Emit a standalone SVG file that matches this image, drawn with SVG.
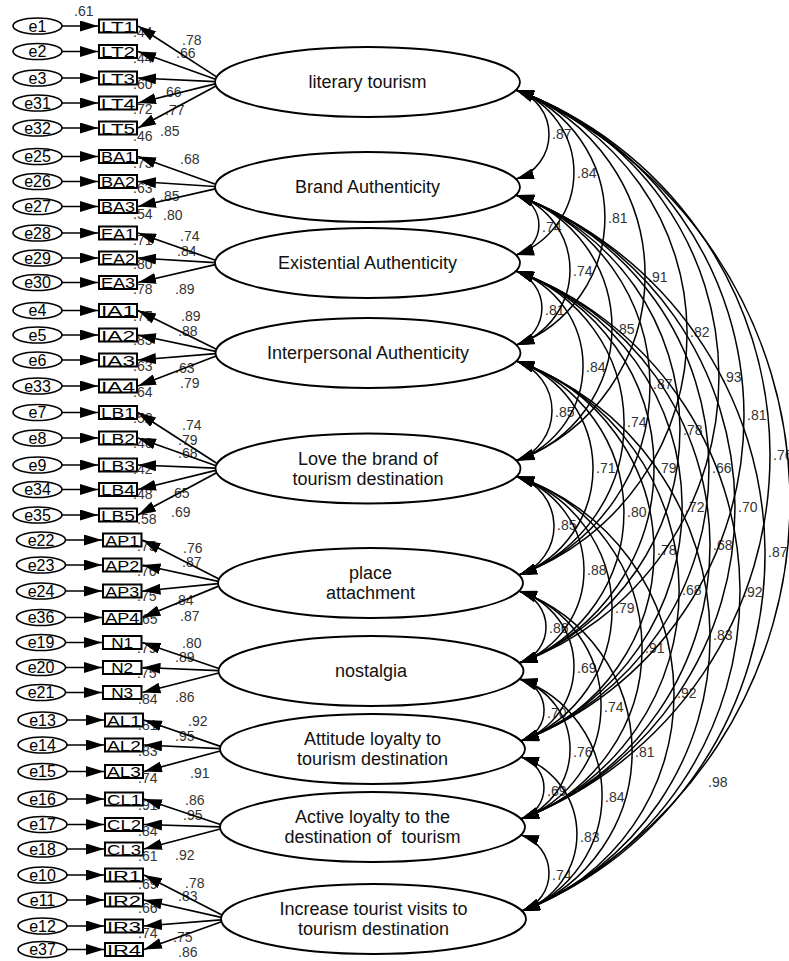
<svg xmlns="http://www.w3.org/2000/svg" width="789" height="961" viewBox="0 0 789 961">
<style>
.bg{fill:#fff}
.lat ellipse{fill:#fff;stroke:#000;stroke-width:1.8}
.lat text{font-family:"Liberation Sans",Arial,sans-serif;font-size:18px;text-anchor:middle;fill:#111}
.obs rect{fill:#fff;stroke:#000;stroke-width:2}
.obs text{font-family:"Liberation Sans",Arial,sans-serif;font-size:15px;text-anchor:middle;fill:#000}
.err ellipse{fill:#fff;stroke:#000;stroke-width:1.6}
.err text{font-family:"Liberation Sans",Arial,sans-serif;font-size:16px;text-anchor:middle;fill:#000}
.lbl text{font-family:"Liberation Sans",Arial,sans-serif;font-size:14px;fill:#333}
.ln{fill:none;stroke:#000;stroke-width:1.7;marker-end:url(#ah)}
.cv{fill:none;stroke:#000;stroke-width:1.5;marker-start:url(#ah2);marker-end:url(#ah2)}
</style>
<defs>
<marker id="ah" markerUnits="userSpaceOnUse" markerWidth="18" markerHeight="11" refX="18" refY="5.5" orient="auto"><path d="M0,0 L18,5.5 L0,11 z" fill="#000"/></marker>
<marker id="ah2" markerUnits="userSpaceOnUse" markerWidth="18" markerHeight="11" refX="18" refY="5.5" orient="auto-start-reverse"><path d="M0,0 L18,5.5 L0,11 z" fill="#000"/></marker>
</defs>
<rect class="bg" x="0" y="0" width="789" height="961"/>

<!-- latent factors -->
<g id="F1" class="lat"><ellipse cx="367.5" cy="82" rx="152.5" ry="35"/><text x="367.5" y="88">literary tourism</text></g>
<g id="F2" class="lat"><ellipse cx="367.5" cy="187" rx="152.5" ry="35"/><text x="367.5" y="193">Brand Authenticity</text></g>
<g id="F3" class="lat"><ellipse cx="367.5" cy="263" rx="152.5" ry="35"/><text x="367.5" y="269">Existential Authenticity</text></g>
<g id="F4" class="lat"><ellipse cx="368" cy="353" rx="152.5" ry="35"/><text x="368" y="359">Interpersonal Authenticity</text></g>
<g id="F5" class="lat"><ellipse cx="368" cy="468.5" rx="152.5" ry="35"/><text x="368" y="464.5">Love the brand of</text><text x="368" y="484.5">tourism destination</text></g>
<g id="F6" class="lat"><ellipse cx="370.5" cy="583" rx="152.5" ry="35"/><text x="370.5" y="579">place</text><text x="370.5" y="599">attachment</text></g>
<g id="F7" class="lat"><ellipse cx="371" cy="671" rx="152.5" ry="35"/><text x="371" y="677">nostalgia</text></g>
<g id="F8" class="lat"><ellipse cx="372.5" cy="749" rx="152.5" ry="35"/><text x="372.5" y="745">Attitude loyalty to</text><text x="372.5" y="765">tourism destination</text></g>
<g id="F9" class="lat"><ellipse cx="372.5" cy="827" rx="152.5" ry="35"/><text x="372.5" y="823">Active loyalty to the</text><text x="372.5" y="843" xml:space="preserve" style="white-space:pre">destination of  tourism</text></g>
<g id="F10" class="lat"><ellipse cx="373.5" cy="919" rx="152.5" ry="35"/><text x="373.5" y="915">Increase tourist visits to</text><text x="373.5" y="935">tourism destination</text></g>

<!-- observed indicators -->
<g id="LT1" class="obs"><rect x="99" y="19.5" width="38" height="13"/><text x="118" y="31.5" textLength="34" lengthAdjust="spacingAndGlyphs">LT1</text></g>
<g id="LT2" class="obs"><rect x="99" y="45" width="38" height="13"/><text x="118" y="57" textLength="34" lengthAdjust="spacingAndGlyphs">LT2</text></g>
<g id="LT3" class="obs"><rect x="99" y="71.5" width="38" height="13"/><text x="118" y="83.5" textLength="34" lengthAdjust="spacingAndGlyphs">LT3</text></g>
<g id="LT4" class="obs"><rect x="99" y="96.5" width="38" height="13"/><text x="118" y="108.5" textLength="34" lengthAdjust="spacingAndGlyphs">LT4</text></g>
<g id="LT5" class="obs"><rect x="99" y="121.5" width="38" height="13"/><text x="118" y="133.5" textLength="34" lengthAdjust="spacingAndGlyphs">LT5</text></g>
<g id="BA1" class="obs"><rect x="99" y="150" width="38" height="13"/><text x="118" y="162" textLength="34" lengthAdjust="spacingAndGlyphs">BA1</text></g>
<g id="BA2" class="obs"><rect x="99" y="175" width="38" height="13"/><text x="118" y="187" textLength="34" lengthAdjust="spacingAndGlyphs">BA2</text></g>
<g id="BA3" class="obs"><rect x="99" y="200" width="38" height="13"/><text x="118" y="212" textLength="34" lengthAdjust="spacingAndGlyphs">BA3</text></g>
<g id="EA1" class="obs"><rect x="99" y="226.5" width="38" height="13"/><text x="118" y="238.5" textLength="34" lengthAdjust="spacingAndGlyphs">EA1</text></g>
<g id="EA2" class="obs"><rect x="99" y="251.5" width="38" height="13"/><text x="118" y="263.5" textLength="34" lengthAdjust="spacingAndGlyphs">EA2</text></g>
<g id="EA3" class="obs"><rect x="99" y="276" width="38" height="13"/><text x="118" y="288" textLength="34" lengthAdjust="spacingAndGlyphs">EA3</text></g>
<g id="IA1" class="obs"><rect x="99" y="304" width="38" height="13"/><text x="118" y="316" textLength="34" lengthAdjust="spacingAndGlyphs">IA1</text></g>
<g id="IA2" class="obs"><rect x="99" y="328.5" width="38" height="13"/><text x="118" y="340.5" textLength="34" lengthAdjust="spacingAndGlyphs">IA2</text></g>
<g id="IA3" class="obs"><rect x="99" y="353.5" width="38" height="13"/><text x="118" y="365.5" textLength="34" lengthAdjust="spacingAndGlyphs">IA3</text></g>
<g id="IA4" class="obs"><rect x="99" y="379.5" width="38" height="13"/><text x="118" y="391.5" textLength="34" lengthAdjust="spacingAndGlyphs">IA4</text></g>
<g id="LB1" class="obs"><rect x="99" y="406" width="38" height="13"/><text x="118" y="418" textLength="34" lengthAdjust="spacingAndGlyphs">LB1</text></g>
<g id="LB2" class="obs"><rect x="99" y="431.5" width="38" height="13"/><text x="118" y="443.5" textLength="34" lengthAdjust="spacingAndGlyphs">LB2</text></g>
<g id="LB3" class="obs"><rect x="99" y="458.5" width="38" height="13"/><text x="118" y="470.5" textLength="34" lengthAdjust="spacingAndGlyphs">LB3</text></g>
<g id="LB4" class="obs"><rect x="99" y="483" width="38" height="13"/><text x="118" y="495" textLength="34" lengthAdjust="spacingAndGlyphs">LB4</text></g>
<g id="LB5" class="obs"><rect x="99" y="508.5" width="38" height="13"/><text x="118" y="520.5" textLength="34" lengthAdjust="spacingAndGlyphs">LB5</text></g>
<g id="AP1" class="obs"><rect x="103" y="533.5" width="38.5" height="13"/><text x="122.2" y="545.5" textLength="34" lengthAdjust="spacingAndGlyphs">AP1</text></g>
<g id="AP2" class="obs"><rect x="103" y="558.5" width="38.5" height="13"/><text x="122.2" y="570.5" textLength="34" lengthAdjust="spacingAndGlyphs">AP2</text></g>
<g id="AP3" class="obs"><rect x="103" y="584.5" width="38.5" height="13"/><text x="122.2" y="596.5" textLength="34" lengthAdjust="spacingAndGlyphs">AP3</text></g>
<g id="AP4" class="obs"><rect x="103" y="611" width="38.5" height="13"/><text x="122.2" y="623" textLength="34" lengthAdjust="spacingAndGlyphs">AP4</text></g>
<g id="N1" class="obs"><rect x="103" y="636" width="38.5" height="13"/><text x="122.2" y="648" textLength="22" lengthAdjust="spacingAndGlyphs">N1</text></g>
<g id="N2" class="obs"><rect x="103" y="661" width="38.5" height="13"/><text x="122.2" y="673" textLength="22" lengthAdjust="spacingAndGlyphs">N2</text></g>
<g id="N3" class="obs"><rect x="103" y="686" width="38.5" height="13"/><text x="122.2" y="698" textLength="22" lengthAdjust="spacingAndGlyphs">N3</text></g>
<g id="AL1" class="obs"><rect x="105" y="713.5" width="38" height="13"/><text x="124" y="725.5" textLength="34" lengthAdjust="spacingAndGlyphs">AL1</text></g>
<g id="AL2" class="obs"><rect x="105" y="738.5" width="38" height="13"/><text x="124" y="750.5" textLength="34" lengthAdjust="spacingAndGlyphs">AL2</text></g>
<g id="AL3" class="obs"><rect x="105" y="765" width="38" height="13"/><text x="124" y="777" textLength="34" lengthAdjust="spacingAndGlyphs">AL3</text></g>
<g id="CL1" class="obs"><rect x="105" y="792.5" width="38" height="13"/><text x="124" y="804.5" textLength="34" lengthAdjust="spacingAndGlyphs">CL1</text></g>
<g id="CL2" class="obs"><rect x="105" y="818" width="38" height="13"/><text x="124" y="830" textLength="34" lengthAdjust="spacingAndGlyphs">CL2</text></g>
<g id="CL3" class="obs"><rect x="105" y="842.5" width="38" height="13"/><text x="124" y="854.5" textLength="34" lengthAdjust="spacingAndGlyphs">CL3</text></g>
<g id="IR1" class="obs"><rect x="105" y="868.5" width="38" height="13"/><text x="124" y="880.5" textLength="34" lengthAdjust="spacingAndGlyphs">IR1</text></g>
<g id="IR2" class="obs"><rect x="105" y="893.5" width="38" height="13"/><text x="124" y="905.5" textLength="34" lengthAdjust="spacingAndGlyphs">IR2</text></g>
<g id="IR3" class="obs"><rect x="105" y="919.5" width="38" height="13"/><text x="124" y="931.5" textLength="34" lengthAdjust="spacingAndGlyphs">IR3</text></g>
<g id="IR4" class="obs"><rect x="105" y="943" width="38" height="13"/><text x="124" y="955" textLength="34" lengthAdjust="spacingAndGlyphs">IR4</text></g>

<!-- error terms -->
<g id="e1" class="err"><ellipse cx="37.5" cy="26" rx="24.5" ry="8"/><text x="37.5" y="31.5">e1</text></g>
<g id="e2" class="err"><ellipse cx="37.5" cy="51.5" rx="24.5" ry="8"/><text x="37.5" y="57">e2</text></g>
<g id="e3" class="err"><ellipse cx="37.5" cy="78" rx="24.5" ry="8"/><text x="37.5" y="83.5">e3</text></g>
<g id="e31" class="err"><ellipse cx="37.5" cy="103" rx="24.5" ry="8"/><text x="37.5" y="108.5">e31</text></g>
<g id="e32" class="err"><ellipse cx="37.5" cy="128" rx="24.5" ry="8"/><text x="37.5" y="133.5">e32</text></g>
<g id="e25" class="err"><ellipse cx="37.5" cy="156.5" rx="24.5" ry="8"/><text x="37.5" y="162">e25</text></g>
<g id="e26" class="err"><ellipse cx="37.5" cy="181.5" rx="24.5" ry="8"/><text x="37.5" y="187">e26</text></g>
<g id="e27" class="err"><ellipse cx="37.5" cy="206.5" rx="24.5" ry="8"/><text x="37.5" y="212">e27</text></g>
<g id="e28" class="err"><ellipse cx="37.5" cy="233" rx="24.5" ry="8"/><text x="37.5" y="238.5">e28</text></g>
<g id="e29" class="err"><ellipse cx="37.5" cy="258" rx="24.5" ry="8"/><text x="37.5" y="263.5">e29</text></g>
<g id="e30" class="err"><ellipse cx="37.5" cy="282.5" rx="24.5" ry="8"/><text x="37.5" y="288">e30</text></g>
<g id="e4" class="err"><ellipse cx="37.5" cy="310.5" rx="24.5" ry="8"/><text x="37.5" y="316">e4</text></g>
<g id="e5" class="err"><ellipse cx="37.5" cy="335" rx="24.5" ry="8"/><text x="37.5" y="340.5">e5</text></g>
<g id="e6" class="err"><ellipse cx="37.5" cy="360" rx="24.5" ry="8"/><text x="37.5" y="365.5">e6</text></g>
<g id="e33" class="err"><ellipse cx="37.5" cy="386" rx="24.5" ry="8"/><text x="37.5" y="391.5">e33</text></g>
<g id="e7" class="err"><ellipse cx="37.5" cy="412.5" rx="24.5" ry="8"/><text x="37.5" y="418">e7</text></g>
<g id="e8" class="err"><ellipse cx="37.5" cy="438" rx="24.5" ry="8"/><text x="37.5" y="443.5">e8</text></g>
<g id="e9" class="err"><ellipse cx="37.5" cy="465" rx="24.5" ry="8"/><text x="37.5" y="470.5">e9</text></g>
<g id="e34" class="err"><ellipse cx="37.5" cy="489.5" rx="24.5" ry="8"/><text x="37.5" y="495">e34</text></g>
<g id="e35" class="err"><ellipse cx="37.5" cy="515" rx="24.5" ry="8"/><text x="37.5" y="520.5">e35</text></g>
<g id="e22" class="err"><ellipse cx="41" cy="540" rx="24.5" ry="8"/><text x="41" y="545.5">e22</text></g>
<g id="e23" class="err"><ellipse cx="41" cy="565" rx="24.5" ry="8"/><text x="41" y="570.5">e23</text></g>
<g id="e24" class="err"><ellipse cx="41" cy="591" rx="24.5" ry="8"/><text x="41" y="596.5">e24</text></g>
<g id="e36" class="err"><ellipse cx="41" cy="617.5" rx="24.5" ry="8"/><text x="41" y="623">e36</text></g>
<g id="e19" class="err"><ellipse cx="41" cy="642.5" rx="24.5" ry="8"/><text x="41" y="648">e19</text></g>
<g id="e20" class="err"><ellipse cx="41" cy="667.5" rx="24.5" ry="8"/><text x="41" y="673">e20</text></g>
<g id="e21" class="err"><ellipse cx="41" cy="692.5" rx="24.5" ry="8"/><text x="41" y="698">e21</text></g>
<g id="e13" class="err"><ellipse cx="42.5" cy="720" rx="24.5" ry="8"/><text x="42.5" y="725.5">e13</text></g>
<g id="e14" class="err"><ellipse cx="42.5" cy="745" rx="24.5" ry="8"/><text x="42.5" y="750.5">e14</text></g>
<g id="e15" class="err"><ellipse cx="42.5" cy="771.5" rx="24.5" ry="8"/><text x="42.5" y="777">e15</text></g>
<g id="e16" class="err"><ellipse cx="42.5" cy="799" rx="24.5" ry="8"/><text x="42.5" y="804.5">e16</text></g>
<g id="e17" class="err"><ellipse cx="42.5" cy="824.5" rx="24.5" ry="8"/><text x="42.5" y="830">e17</text></g>
<g id="e18" class="err"><ellipse cx="42.5" cy="849" rx="24.5" ry="8"/><text x="42.5" y="854.5">e18</text></g>
<g id="e10" class="err"><ellipse cx="42.5" cy="875" rx="24.5" ry="8"/><text x="42.5" y="880.5">e10</text></g>
<g id="e11" class="err"><ellipse cx="42.5" cy="900" rx="24.5" ry="8"/><text x="42.5" y="905.5">e11</text></g>
<g id="e12" class="err"><ellipse cx="42.5" cy="926" rx="24.5" ry="8"/><text x="42.5" y="931.5">e12</text></g>
<g id="e37" class="err"><ellipse cx="42.5" cy="949.5" rx="24.5" ry="8"/><text x="42.5" y="955">e37</text></g>

<!-- labels -->
<g id="labels" class="lbl">
<text x="74" y="16">.61</text><text x="133" y="37">.44</text><text x="182" y="45">.78</text><text x="176" y="58">.66</text><text x="133" y="63">.44</text><text x="133" y="89">.60</text><text x="162" y="97">.66</text><text x="133" y="114">.72</text><text x="165" y="115">.77</text><text x="133" y="141">.46</text><text x="160" y="136">.85</text>
<text x="133" y="168">.73</text><text x="180" y="164">.68</text><text x="133" y="193">.63</text><text x="160" y="201">.85</text><text x="133" y="219">.54</text><text x="163" y="220">.80</text>
<text x="133" y="245">.71</text><text x="180" y="241">.74</text><text x="177" y="256">.84</text><text x="133" y="269">.80</text><text x="133" y="294">.78</text><text x="175" y="294">.89</text>
<text x="133" y="321">.77</text><text x="181" y="321">.89</text><text x="178" y="336">.88</text><text x="133" y="345">.85</text><text x="133" y="371">.63</text><text x="175" y="373">.63</text><text x="180" y="388">.79</text><text x="133" y="397">.64</text>
<text x="133" y="423">.52</text><text x="182" y="430">.74</text><text x="178" y="445">.79</text><text x="133" y="448">.46</text><text x="178" y="458">.68</text><text x="133" y="474">.42</text><text x="133" y="499">.48</text><text x="170" y="498">.65</text><text x="171" y="517">.69</text><text x="137" y="524">.58</text>
<text x="137" y="551">.75</text><text x="183" y="553">.76</text><text x="182" y="567">.87</text><text x="137" y="576">.76</text><text x="137" y="601">.75</text><text x="174" y="605">.84</text><text x="180" y="621">.87</text><text x="138" y="624">.65</text>
<text x="182" y="648">.80</text><text x="137" y="653">.79</text><text x="175" y="662">.89</text><text x="137" y="678">.75</text><text x="138" y="704">.84</text><text x="175" y="702">.86</text>
<text x="188" y="726">.92</text><text x="138" y="730">.81</text><text x="175" y="741">.95</text><text x="138" y="756">.83</text><text x="138" y="783">.74</text><text x="190" y="778">.91</text>
<text x="185" y="805">.86</text><text x="138" y="810">.91</text><text x="183" y="820">.95</text><text x="138" y="836">.84</text><text x="138" y="861">.61</text><text x="175" y="860">.92</text>
<text x="185" y="888">.78</text><text x="138" y="889">.69</text><text x="178" y="901">.83</text><text x="138" y="913">.66</text><text x="138" y="938">.74</text><text x="173" y="942">.75</text><text x="178" y="957">.86</text>
<text x="552" y="139">.87</text><text x="577" y="178">.84</text><text x="608" y="223">.81</text><text x="542" y="232">.74</text><text x="573" y="276">.74</text><text x="648" y="282">.91</text><text x="545" y="315">.81</text><text x="615" y="334">.85</text><text x="690" y="337">.82</text>
<text x="586" y="372">.84</text><text x="722" y="382">.93</text><text x="653" y="389">.87</text><text x="555" y="417">.85</text><text x="747" y="420">.81</text><text x="627" y="427">.74</text><text x="683" y="435">.78</text><text x="773" y="460">.76</text>
<text x="596" y="473">.71</text><text x="657" y="473">.79</text><text x="712" y="473">.66</text><text x="627" y="517">.80</text><text x="685" y="512">.72</text><text x="738" y="512">.70</text><text x="557" y="530">.85</text>
<text x="657" y="555">.78</text><text x="713" y="550">.68</text><text x="768" y="557">.87</text><text x="587" y="575">.88</text><text x="682" y="595">.68</text><text x="743" y="597">.92</text><text x="615" y="613">.79</text>
<text x="549" y="633">.86</text><text x="713" y="640">.83</text><text x="645" y="653">.91</text><text x="577" y="673">.69</text><text x="677" y="698">.92</text><text x="604" y="712">.74</text><text x="547" y="718">.70</text>
<text x="573" y="757">.76</text><text x="635" y="757">.81</text><text x="547" y="796">.69</text><text x="605" y="802">.84</text><text x="708" y="787">.98</text><text x="580" y="842">.83</text><text x="552" y="880">.74</text>
</g>

<g id="connectors">
<!-- error to indicator -->
<path class="ln" d="M62,26H98"/><path class="ln" d="M62,51.5H98"/><path class="ln" d="M62,78H98"/><path class="ln" d="M62,103H98"/><path class="ln" d="M62,128H98"/>
<path class="ln" d="M62,156.5H98"/><path class="ln" d="M62,181.5H98"/><path class="ln" d="M62,206.5H98"/><path class="ln" d="M62,233H98"/><path class="ln" d="M62,258H98"/><path class="ln" d="M62,282.5H98"/>
<path class="ln" d="M62,310.5H98"/><path class="ln" d="M62,335H98"/><path class="ln" d="M62,360H98"/><path class="ln" d="M62,386H98"/>
<path class="ln" d="M62,412.5H98"/><path class="ln" d="M62,438H98"/><path class="ln" d="M62,465H98"/><path class="ln" d="M62,489.5H98"/><path class="ln" d="M62,515H98"/>
<path class="ln" d="M65.5,540H102"/><path class="ln" d="M65.5,565H102"/><path class="ln" d="M65.5,591H102"/><path class="ln" d="M65.5,617.5H102"/><path class="ln" d="M65.5,642.5H102"/><path class="ln" d="M65.5,667.5H102"/><path class="ln" d="M65.5,692.5H102"/>
<path class="ln" d="M67,720H104"/><path class="ln" d="M67,745H104"/><path class="ln" d="M67,771.5H104"/><path class="ln" d="M67,799H104"/><path class="ln" d="M67,824.5H104"/><path class="ln" d="M67,849H104"/><path class="ln" d="M67,875H104"/><path class="ln" d="M67,900H104"/><path class="ln" d="M67,926H104"/><path class="ln" d="M67,949.5H104"/>
<!-- loadings -->
<path class="ln" d="M216.6,76.9L138,26"/><path class="ln" d="M215.5,79.3L138,51.5"/><path class="ln" d="M215,81.7L138,78"/><path class="ln" d="M215.2,83.9L138,103"/><path class="ln" d="M216,86.1L138,128"/>
<path class="ln" d="M215.5,184.3L138,156.5"/><path class="ln" d="M215,186.5L138,181.5"/><path class="ln" d="M215.2,188.8L138,206.5"/>
<path class="ln" d="M215.5,260.3L138,233"/><path class="ln" d="M215,262.6L138,258"/><path class="ln" d="M215.2,264.7L138,282.5"/>
<path class="ln" d="M216.4,349.2L138,310.5"/><path class="ln" d="M215.7,351.4L138,335"/><path class="ln" d="M215.5,353.6L138,360"/><path class="ln" d="M216.1,356L138,386"/>
<path class="ln" d="M217.1,463.5L138,412.5"/><path class="ln" d="M216,465.8L138,438"/><path class="ln" d="M215.5,468.2L138,465"/><path class="ln" d="M215.7,470.4L138,489.5"/><path class="ln" d="M216.6,472.7L138,515"/>
<path class="ln" d="M219,579.1L142.5,540"/><path class="ln" d="M218.2,581.4L142.5,565"/><path class="ln" d="M218,583.7L142.5,591"/><path class="ln" d="M218.6,586.1L142.5,617.5"/>
<path class="ln" d="M218.9,668.5L142.5,642.5"/><path class="ln" d="M218.5,670.7L142.5,667.5"/><path class="ln" d="M218.7,673L142.5,692.5"/>
<path class="ln" d="M220.4,746.4L144,720"/><path class="ln" d="M220,748.6L144,745"/><path class="ln" d="M220.2,751L144,771.5"/>
<path class="ln" d="M220.4,824.5L144,799"/><path class="ln" d="M220,826.8L144,824.5"/><path class="ln" d="M220.2,829L144,849"/>
<path class="ln" d="M222,915L144,875"/><path class="ln" d="M221.2,917.3L144,900"/><path class="ln" d="M221,919.8L144,926"/><path class="ln" d="M221.5,921.7L144,949.5"/>
<!-- covariances -->
<path class="cv" d="M516,90A46.5,46.5 0 0 1 516,179"/>
<path class="cv" d="M516,90A87.7,87.7 0 0 1 516,255"/>
<path class="cv" d="M516,90A136,136 0 0 1 516.5,345"/>
<path class="cv" d="M516,90A197.6,197.6 0 0 1 516.5,460.5"/>
<path class="cv" d="M516,90A258.2,258.2 0 0 1 519,575"/>
<path class="cv" d="M516,90A304.6,304.6 0 0 1 519.5,663"/>
<path class="cv" d="M516,90A347.7,347.7 0 0 1 521,741"/>
<path class="cv" d="M516,90A389.9,389.9 0 0 1 521,819"/>
<path class="cv" d="M516,90A446.4,446.4 0 0 1 522,911"/>
<path class="cv" d="M516,195A31.1,31.1 0 0 1 516,255"/>
<path class="cv" d="M516,195A79.2,79.2 0 0 1 516.5,345"/>
<path class="cv" d="M516,195A139.9,139.9 0 0 1 516.5,460.5"/>
<path class="cv" d="M516,195A202.5,202.5 0 0 1 519,575"/>
<path class="cv" d="M516,195A249.9,249.9 0 0 1 519.5,663"/>
<path class="cv" d="M516,195A290.9,290.9 0 0 1 521,741"/>
<path class="cv" d="M516,195A333.1,333.1 0 0 1 521,819"/>
<path class="cv" d="M516,195A383.5,383.5 0 0 1 522,911"/>
<path class="cv" d="M516,271A39.5,39.5 0 0 1 516.5,345"/>
<path class="cv" d="M516,271A100.6,100.6 0 0 1 516.5,460.5"/>
<path class="cv" d="M516,271A161.7,161.7 0 0 1 519,575"/>
<path class="cv" d="M516,271A209.1,209.1 0 0 1 519.5,663"/>
<path class="cv" d="M516,271A250.6,250.6 0 0 1 521,741"/>
<path class="cv" d="M516,271A291.8,291.8 0 0 1 521,819"/>
<path class="cv" d="M516,271A342.2,342.2 0 0 1 522,911"/>
<path class="cv" d="M516.5,361A52.6,52.6 0 0 1 516.5,460.5"/>
<path class="cv" d="M516.5,361A113.7,113.7 0 0 1 519,575"/>
<path class="cv" d="M516.5,361A160.6,160.6 0 0 1 519.5,663"/>
<path class="cv" d="M516.5,361A201.1,201.1 0 0 1 521,741"/>
<path class="cv" d="M516.5,361A243.7,243.7 0 0 1 521,819"/>
<path class="cv" d="M516.5,361A293.6,293.6 0 0 1 522,911"/>
<path class="cv" d="M516.5,476.5A51.6,51.6 0 0 1 519,575"/>
<path class="cv" d="M516.5,476.5A98.9,98.9 0 0 1 519.5,663"/>
<path class="cv" d="M516.5,476.5A140.4,140.4 0 0 1 521,741"/>
<path class="cv" d="M516.5,476.5A180.6,180.6 0 0 1 521,819"/>
<path class="cv" d="M516.5,476.5A229.9,229.9 0 0 1 522,911"/>
<path class="cv" d="M519,591A37.6,37.6 0 0 1 519.5,663"/>
<path class="cv" d="M519,591A79.1,79.1 0 0 1 521,741"/>
<path class="cv" d="M519,591A120.7,120.7 0 0 1 521,819"/>
<path class="cv" d="M519,591A170.5,170.5 0 0 1 522,911"/>
<path class="cv" d="M519.5,679A32.1,32.1 0 0 1 521,741"/>
<path class="cv" d="M519.5,679A74.1,74.1 0 0 1 521,819"/>
<path class="cv" d="M519.5,679A123.4,123.4 0 0 1 522,911"/>
<path class="cv" d="M521,757A32.4,32.4 0 0 1 521,819"/>
<path class="cv" d="M521,757A81.2,81.2 0 0 1 522,911"/>
<path class="cv" d="M521,835A40,40 0 0 1 522,911"/>
</g>
</svg>
